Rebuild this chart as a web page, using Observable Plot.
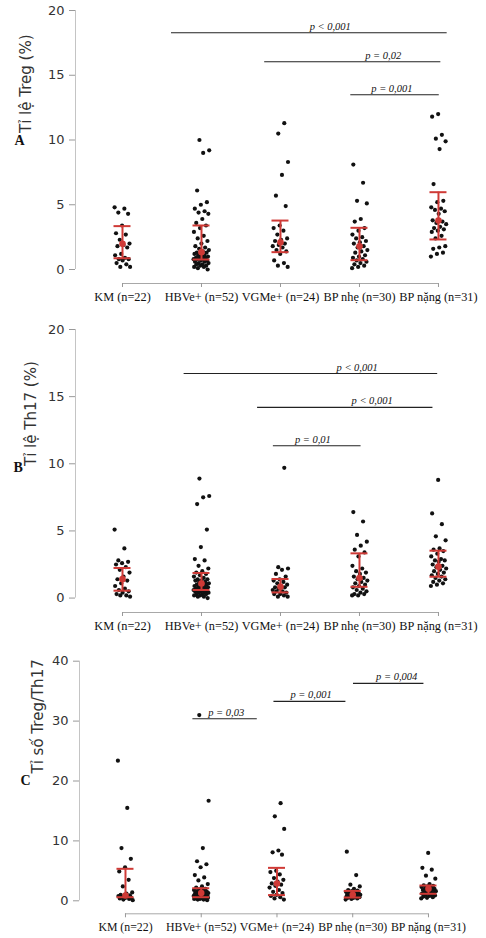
<!DOCTYPE html>
<html><head><meta charset="utf-8">
<script src="https://cdn.jsdelivr.net/npm/d3@7"></script>
<script src="https://cdn.jsdelivr.net/npm/@observablehq/plot@0.6"></script>
<style>
html,body{margin:0;padding:0;background:#fff;}
#chart{width:486px;}
#chart svg{display:block;}
</style>
</head><body><div id="chart"></div>
<script>
// ---- categories & ticks ----
const groups = ["KM (n=22)", "HBVe+ (n=52)", "VGMe+ (n=24)", "BP nhẹ (n=30)", "BP nặng (n=31)"];
const yTicksAB = [0, 5, 10, 15, 20];
const yTicksC = [0, 10, 20, 30, 40];

// ---- Panel A: Tỉ lệ Treg (%) ----
const tregKM = [4.8, 4.7, 4.4, 4.3, 3.4, 2.8, 2.7, 2.3, 2.0, 1.9, 1.8, 1.7, 1.2, 1.1, 0.9, 0.8, 0.8, 0.7, 0.5, 0.4, 0.2, 0.2];
const tregHBVe = [10.0, 9.2, 9.0, 6.1, 5.2, 5.0, 4.7, 4.5, 4.4, 4.3, 3.9, 3.6, 3.4, 3.2, 2.9, 2.6, 2.4, 2.2, 2.0, 1.8, 1.7, 1.6, 1.5, 1.4, 1.3, 1.3, 1.2, 1.2, 1.1, 1.1, 1.0, 1.0, 0.9, 0.9, 0.9, 0.8, 0.8, 0.8, 0.7, 0.7, 0.6, 0.6, 0.5, 0.5, 0.4, 0.4, 0.3, 0.3, 0.2, 0.2, 0.1, 0.0];
const tregVGMe = [11.3, 10.5, 8.3, 7.3, 5.7, 4.9, 3.4, 3.2, 3.0, 2.7, 2.4, 2.3, 2.2, 2.0, 1.9, 1.8, 1.7, 1.5, 1.4, 1.2, 0.7, 0.5, 0.3, 0.2];
const tregBPnhe = [8.1, 6.7, 5.3, 5.1, 3.9, 3.7, 3.2, 3.0, 2.7, 2.5, 2.4, 2.2, 2.1, 2.0, 1.8, 1.7, 1.5, 1.4, 1.3, 1.1, 1.0, 0.9, 0.8, 0.7, 0.6, 0.5, 0.4, 0.3, 0.2, 0.1];
const tregBPnang = [12.0, 11.8, 10.4, 10.1, 9.9, 9.3, 6.6, 5.3, 5.2, 4.8, 4.7, 4.6, 4.5, 4.3, 3.8, 3.7, 3.6, 3.5, 3.3, 3.2, 3.1, 3.0, 2.9, 2.6, 2.4, 1.8, 1.7, 1.6, 1.3, 1.2, 1.0];
const tregCenter = [1.98, 1.34, 2.11, 1.80, 3.78];
const tregLow = [0.87, 0.77, 1.34, 0.72, 2.32];
const tregHigh = [3.35, 3.40, 3.78, 3.22, 5.97];
const tregPLabel = ["p < 0,001", "p = 0,02", "p = 0,001"];
const tregPFrom = [0.62, 1.80, 2.89];
const tregPTo = [4.11, 4.03, 4.01];
const tregPY = [18.28, 16.04, 13.5];
const tregPTextX = [2.63, 3.30, 3.41];

// ---- Panel B: Tỉ lệ Th17 (%) ----
const th17KM = [5.1, 3.7, 2.8, 2.7, 2.6, 2.5, 2.3, 2.1, 1.9, 1.6, 1.4, 1.3, 1.1, 0.9, 0.7, 0.6, 0.5, 0.4, 0.3, 0.2, 0.2, 0.1];
const th17HBVe = [8.9, 7.6, 7.5, 7.0, 5.1, 3.8, 2.9, 2.8, 2.4, 2.2, 2.0, 1.9, 1.8, 1.7, 1.6, 1.5, 1.4, 1.4, 1.3, 1.3, 1.2, 1.2, 1.1, 1.1, 1.0, 1.0, 0.9, 0.9, 0.9, 0.8, 0.8, 0.8, 0.7, 0.7, 0.7, 0.6, 0.6, 0.6, 0.5, 0.5, 0.5, 0.4, 0.4, 0.4, 0.3, 0.3, 0.3, 0.2, 0.2, 0.1, 0.1, 0.0];
const th17VGMe = [9.7, 2.3, 2.2, 2.1, 1.8, 1.6, 1.4, 1.3, 1.2, 1.1, 1.0, 0.9, 0.8, 0.8, 0.7, 0.6, 0.5, 0.5, 0.4, 0.3, 0.3, 0.2, 0.1, 0.1];
const th17BPnhe = [6.4, 5.7, 4.7, 4.2, 3.9, 3.6, 3.4, 3.1, 2.4, 2.2, 2.0, 1.9, 1.8, 1.6, 1.5, 1.4, 1.3, 1.2, 1.1, 1.0, 0.9, 0.8, 0.7, 0.6, 0.5, 0.4, 0.3, 0.3, 0.2, 0.2];
const th17BPnang = [8.8, 6.3, 5.5, 4.6, 4.3, 3.7, 3.6, 3.5, 3.3, 3.1, 2.9, 2.8, 2.8, 2.7, 2.5, 2.4, 2.3, 2.2, 2.1, 2.0, 1.9, 1.8, 1.7, 1.6, 1.5, 1.4, 1.3, 1.2, 1.1, 1.0, 0.9];
const th17Center = [1.41, 1.09, 0.84, 1.49, 2.34];
const th17Low = [0.55, 0.60, 0.42, 0.84, 1.59];
const th17High = [2.24, 1.87, 1.42, 3.33, 3.53];
const th17PLabel = ["p < 0,001", "p < 0,001", "p = 0,01"];
const th17PFrom = [0.78, 1.71, 1.91];
const th17PTo = [3.99, 3.93, 3.02];
const th17PY = [16.72, 14.2, 11.34];
const th17PTextX = [2.97, 3.16, 2.41];

// ---- Panel C: Tỉ số Treg/Th17 ----
const ratioKM = [23.4, 15.5, 8.8, 7.0, 5.6, 4.9, 3.5, 2.4, 1.4, 1.2, 1.0, 0.9, 0.8, 0.8, 0.7, 0.6, 0.5, 0.5, 0.4, 0.3, 0.2, 0.1];
const ratioHBVe = [31.0, 16.7, 8.8, 6.6, 6.1, 5.6, 4.3, 3.9, 3.4, 2.8, 2.4, 2.2, 2.0, 1.9, 1.8, 1.7, 1.6, 1.5, 1.5, 1.4, 1.4, 1.3, 1.3, 1.2, 1.2, 1.1, 1.1, 1.0, 1.0, 1.0, 0.9, 0.9, 0.9, 0.8, 0.8, 0.8, 0.7, 0.7, 0.7, 0.6, 0.6, 0.6, 0.5, 0.5, 0.5, 0.4, 0.4, 0.3, 0.3, 0.2, 0.2, 0.1];
const ratioVGMe = [16.3, 14.1, 12.0, 8.4, 8.1, 7.7, 5.0, 4.8, 4.4, 3.8, 3.5, 3.2, 2.9, 2.7, 2.5, 2.2, 1.8, 1.5, 1.3, 1.0, 0.8, 0.6, 0.4, 0.2];
const ratioBPnhe = [8.2, 4.3, 2.7, 2.4, 2.0, 1.8, 1.7, 1.6, 1.5, 1.4, 1.3, 1.2, 1.2, 1.1, 1.1, 1.0, 1.0, 0.9, 0.9, 0.8, 0.8, 0.7, 0.7, 0.6, 0.6, 0.5, 0.5, 0.4, 0.3, 0.2];
const ratioBPnang = [8.0, 5.5, 5.2, 4.2, 3.7, 2.8, 2.6, 2.5, 2.4, 2.3, 2.2, 2.1, 2.0, 1.9, 1.8, 1.8, 1.7, 1.6, 1.5, 1.4, 1.3, 1.2, 1.2, 1.1, 1.0, 0.9, 0.8, 0.7, 0.6, 0.5, 0.4];
const ratioCenter = [0.88, 1.3, 2.9, 1.0, 2.0];
const ratioLow = [0.6, 0.6, 0.95, 0.55, 1.17];
const ratioHigh = [5.34, 2.1, 5.5, 1.65, 2.55];
const ratioPLabel = ["p = 0,03", "p = 0,001", "p = 0,004"];
const ratioPFrom = [0.89, 1.96, 3.01];
const ratioPTo = [1.74, 2.91, 3.94];
const ratioPY = [30.4, 33.3, 36.3];
const ratioPTextX = [1.33, 2.45, 3.58];

// ---- helpers ----
const RED = "#cf3a36";
const serif = "Liberation Serif";
const sans = "DejaVu Sans";

function jitter(i, g) { // deterministic horizontal spread (layout only)
  return (((i * 0.6180339887 + g * 0.37) % 1) - 0.5) * 0.2;
}

function panel(cfg) {
  const points = cfg.series.flatMap((vals, g) => vals.map((v, i) => ({g, v, xj: g + jitter(i, g)})));
  const summary = groups.map((name, g) => ({g, c: cfg.center[g], lo: cfg.low[g], hi: cfg.high[g]}));
  const ann = cfg.pLabel.map((label, k) => ({label, x1: cfg.pFrom[k], x2: cfg.pTo[k], y: cfg.pY[k], tx: cfg.pTextX[k]}));
  const yTop = cfg.yTicks[cfg.yTicks.length - 1];
  return Plot.plot({
    width: 486,
    height: cfg.height,
    marginTop: cfg.marginTop,
    marginBottom: cfg.marginBottom,
    marginLeft: cfg.marginLeft,
    marginRight: 0,
    x: {type: "linear", domain: cfg.xDomain},
    y: {domain: [cfg.yMin, yTop]},
    style: {background: "white", overflow: "visible"},
    marks: [
      // y axis line
      Plot.ruleX([cfg.xDomain[0]], {y1: 0, y2: yTop, stroke: "#c4c4c4", strokeWidth: 1}),
      Plot.axisY({ticks: cfg.yTicks, tickSize: 6, tickPadding: 5, stroke: "#999", fill: "#333",
        fontSize: 13, fontFamily: sans, label: null}),
      // x axis line and labels
      Plot.ruleY([cfg.yMin], {x1: 0, x2: groups.length - 1, stroke: "#a8a8a8", strokeWidth: 1}),
      Plot.axisX({ticks: d3.range(groups.length), tickFormat: i => groups[i], tickSize: 4, tickPadding: 5,
        stroke: "#999", fill: "#111", fontSize: cfg.xFont, fontFamily: serif, label: null}),
      // raw points
      Plot.dot(points, {x: "xj", y: "v", r: 2.1, fill: "#111", stroke: "none"}),
      // error bars
      Plot.ruleX(summary, {x: "g", y1: "lo", y2: "hi", stroke: RED, strokeWidth: 2}),
      Plot.ruleY(summary, {y: "hi", x1: "g", x2: "g", insetLeft: -8.5, insetRight: -8.5, stroke: RED, strokeWidth: 2}),
      Plot.ruleY(summary, {y: "lo", x1: "g", x2: "g", insetLeft: -8.5, insetRight: -8.5, stroke: RED, strokeWidth: 2}),
      Plot.dot(summary, {x: "g", y: "c", r: 3.3, fill: RED, stroke: "none"}),
      // significance brackets
      Plot.ruleY(ann, {y: "y", x1: "x1", x2: "x2", stroke: "#222", strokeWidth: 1.1}),
      Plot.text(ann, {x: "tx", y: "y", text: "label", lineAnchor: "bottom", dy: -3, fontStyle: "italic",
        fontFamily: serif, fontSize: 10.5, fill: "#111"}),
      // axis title and panel letter
      Plot.text([cfg.title], {frameAnchor: "left", rotate: -90, dx: cfg.titleDx, dy: cfg.titleDy,
        fontSize: 15, fontFamily: sans, fill: "#333"}),
      Plot.text([cfg.letter], {frameAnchor: "left", dx: cfg.letterDx, dy: cfg.letterDy,
        fontSize: 14, fontWeight: "bold", fontFamily: serif, fill: "#111"})
    ]
  });
}

const chart = document.getElementById("chart");
chart.append(panel({
  series: [tregKM, tregHBVe, tregVGMe, tregBPnhe, tregBPnang],
  center: tregCenter, low: tregLow, high: tregHigh,
  pLabel: tregPLabel, pFrom: tregPFrom, pTo: tregPTo, pY: tregPY, pTextX: tregPTextX,
  yTicks: yTicksAB, yMin: -1.08, height: 310, marginTop: 10, marginBottom: 27, marginLeft: 75,
  xDomain: [-0.595, 4.608], xFont: 12.3, title: "Tỉ lệ Treg (%)", letter: "A",
  titleDx: -49, titleDy: -14, letterDx: -61, letterDy: -6
}));
chart.append(panel({
  series: [th17KM, th17HBVe, th17VGMe, th17BPnhe, th17BPnang],
  center: th17Center, low: th17Low, high: th17High,
  pLabel: th17PLabel, pFrom: th17PFrom, pTo: th17PTo, pY: th17PY, pTextX: th17PTextX,
  yTicks: yTicksAB, yMin: -1.075, height: 330, marginTop: 19, marginBottom: 28, marginLeft: 75,
  xDomain: [-0.595, 4.608], xFont: 12.3, title: "Tỉ lệ Th17 (%)", letter: "B",
  titleDx: -44, titleDy: -5, letterDx: -62, letterDy: -3
}));
chart.append(panel({
  series: [ratioKM, ratioHBVe, ratioVGMe, ratioBPnhe, ratioBPnang],
  center: ratioCenter, low: ratioLow, high: ratioHigh,
  pLabel: ratioPLabel, pFrom: ratioPFrom, pTo: ratioPTo, pY: ratioPY, pTextX: ratioPTextX,
  yTicks: yTicksC, yMin: -2.17, height: 298, marginTop: 20.7, marginBottom: 24.7, marginLeft: 79,
  xDomain: [-0.607, 4.766], xFont: 11.8, title: "Tỉ số Treg/Th17", letter: "C",
  titleDx: -41, titleDy: -14, letterDx: -59, letterDy: -7
}));
</script>
</body></html>
